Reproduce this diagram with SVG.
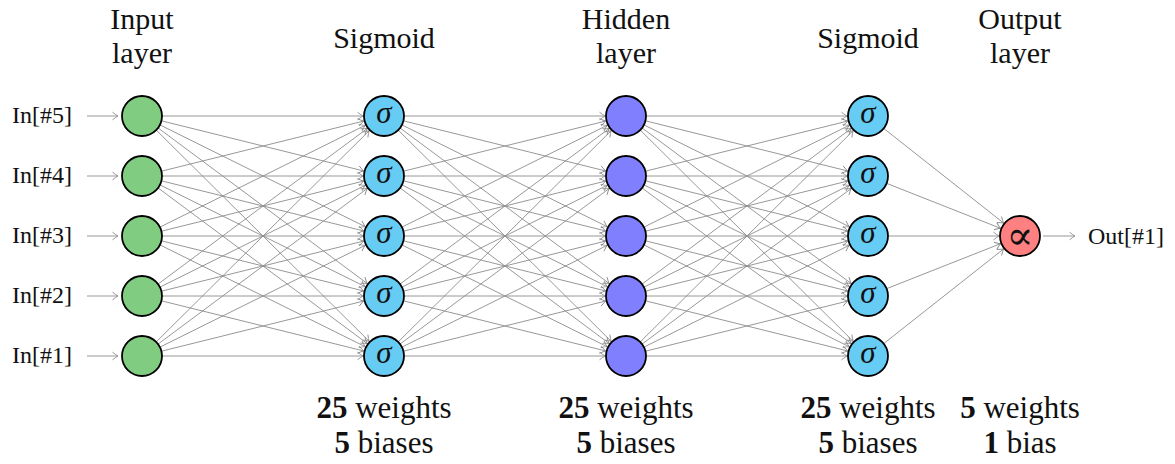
<svg xmlns="http://www.w3.org/2000/svg" width="1175" height="464" viewBox="0 0 1175 464">
  <style>
    .hdr, .io, .cnt, .sym { font-family: "Liberation Serif", "Times New Roman", serif; fill: #111; }
    .hdr { font-size: 30px; text-anchor: middle; }
    .io { font-size: 24px; }
    .cnt { font-size: 31px; text-anchor: middle; }
    .cnt .b { font-weight: bold; }
    .sym { font-size: 31px; font-style: italic; text-anchor: middle; }
    .prop { font-family: "DejaVu Serif", serif; font-size: 40px; text-anchor: middle; fill: #111; }
    .node { stroke: #000; stroke-width: 1.8; }
    .in { fill: #80cc80; }
    .sig { fill: #66ccf4; }
    .hid { fill: #8080ff; }
    .out { fill: #ff8080; }
    #edges line { stroke: #8c8c8c; stroke-width: 0.9; fill: none; }
    #edges line.w { marker-end: url(#tipNode); }
    #edges line.s { marker-end: url(#tipLine); }
  </style>
  <defs>
    <!-- open "to" arrowhead, tip pulled back to the circle boundary -->
    <marker id="tipNode" markerUnits="userSpaceOnUse" orient="auto" refX="21" refY="0" markerWidth="1" markerHeight="1" overflow="visible">
      <path d="M-5.5,-3.8 Q-2,-1.1 0,0 Q-2,1.1 -5.5,3.8" fill="none" stroke="#8c8c8c" stroke-width="0.9"/>
    </marker>
    <!-- open arrowhead at the very end of a line -->
    <marker id="tipLine" markerUnits="userSpaceOnUse" orient="auto" refX="0" refY="0" markerWidth="1" markerHeight="1" overflow="visible">
      <path d="M-5.5,-3.8 Q-2,-1.1 0,0 Q-2,1.1 -5.5,3.8" fill="none" stroke="#8c8c8c" stroke-width="0.9"/>
    </marker>
  </defs>

  <!-- column headers -->
  <g id="headers">
    <text class="hdr" x="142" y="29">Input</text>
    <text class="hdr" x="142" y="63">layer</text>
    <text class="hdr" x="384" y="48">Sigmoid</text>
    <text class="hdr" x="626" y="29">Hidden</text>
    <text class="hdr" x="626" y="63">layer</text>
    <text class="hdr" x="868" y="48">Sigmoid</text>
    <text class="hdr" x="1020" y="29">Output</text>
    <text class="hdr" x="1020" y="63">layer</text>
  </g>

  <!-- connectors -->
  <g id="edges">
    <!-- external inputs / output -->
    <line class="s" x1="87" y1="116" x2="118" y2="116"/>
    <line class="s" x1="87" y1="176" x2="118" y2="176"/>
    <line class="s" x1="87" y1="236" x2="118" y2="236"/>
    <line class="s" x1="87" y1="296" x2="118" y2="296"/>
    <line class="s" x1="87" y1="356" x2="118" y2="356"/>
    <line class="s" x1="1043" y1="236" x2="1075" y2="236"/>

    <!-- input layer -> sigmoid -->
    <line class="w" x1="142" y1="116" x2="384" y2="116"/>
    <line class="w" x1="142" y1="116" x2="384" y2="176"/>
    <line class="w" x1="142" y1="116" x2="384" y2="236"/>
    <line class="w" x1="142" y1="116" x2="384" y2="296"/>
    <line class="w" x1="142" y1="116" x2="384" y2="356"/>
    <line class="w" x1="142" y1="176" x2="384" y2="116"/>
    <line class="w" x1="142" y1="176" x2="384" y2="176"/>
    <line class="w" x1="142" y1="176" x2="384" y2="236"/>
    <line class="w" x1="142" y1="176" x2="384" y2="296"/>
    <line class="w" x1="142" y1="176" x2="384" y2="356"/>
    <line class="w" x1="142" y1="236" x2="384" y2="116"/>
    <line class="w" x1="142" y1="236" x2="384" y2="176"/>
    <line class="w" x1="142" y1="236" x2="384" y2="236"/>
    <line class="w" x1="142" y1="236" x2="384" y2="296"/>
    <line class="w" x1="142" y1="236" x2="384" y2="356"/>
    <line class="w" x1="142" y1="296" x2="384" y2="116"/>
    <line class="w" x1="142" y1="296" x2="384" y2="176"/>
    <line class="w" x1="142" y1="296" x2="384" y2="236"/>
    <line class="w" x1="142" y1="296" x2="384" y2="296"/>
    <line class="w" x1="142" y1="296" x2="384" y2="356"/>
    <line class="w" x1="142" y1="356" x2="384" y2="116"/>
    <line class="w" x1="142" y1="356" x2="384" y2="176"/>
    <line class="w" x1="142" y1="356" x2="384" y2="236"/>
    <line class="w" x1="142" y1="356" x2="384" y2="296"/>
    <line class="w" x1="142" y1="356" x2="384" y2="356"/>

    <!-- sigmoid -> hidden layer -->
    <line class="w" x1="384" y1="116" x2="626" y2="116"/>
    <line class="w" x1="384" y1="116" x2="626" y2="176"/>
    <line class="w" x1="384" y1="116" x2="626" y2="236"/>
    <line class="w" x1="384" y1="116" x2="626" y2="296"/>
    <line class="w" x1="384" y1="116" x2="626" y2="356"/>
    <line class="w" x1="384" y1="176" x2="626" y2="116"/>
    <line class="w" x1="384" y1="176" x2="626" y2="176"/>
    <line class="w" x1="384" y1="176" x2="626" y2="236"/>
    <line class="w" x1="384" y1="176" x2="626" y2="296"/>
    <line class="w" x1="384" y1="176" x2="626" y2="356"/>
    <line class="w" x1="384" y1="236" x2="626" y2="116"/>
    <line class="w" x1="384" y1="236" x2="626" y2="176"/>
    <line class="w" x1="384" y1="236" x2="626" y2="236"/>
    <line class="w" x1="384" y1="236" x2="626" y2="296"/>
    <line class="w" x1="384" y1="236" x2="626" y2="356"/>
    <line class="w" x1="384" y1="296" x2="626" y2="116"/>
    <line class="w" x1="384" y1="296" x2="626" y2="176"/>
    <line class="w" x1="384" y1="296" x2="626" y2="236"/>
    <line class="w" x1="384" y1="296" x2="626" y2="296"/>
    <line class="w" x1="384" y1="296" x2="626" y2="356"/>
    <line class="w" x1="384" y1="356" x2="626" y2="116"/>
    <line class="w" x1="384" y1="356" x2="626" y2="176"/>
    <line class="w" x1="384" y1="356" x2="626" y2="236"/>
    <line class="w" x1="384" y1="356" x2="626" y2="296"/>
    <line class="w" x1="384" y1="356" x2="626" y2="356"/>

    <!-- hidden layer -> sigmoid -->
    <line class="w" x1="626" y1="116" x2="868" y2="116"/>
    <line class="w" x1="626" y1="116" x2="868" y2="176"/>
    <line class="w" x1="626" y1="116" x2="868" y2="236"/>
    <line class="w" x1="626" y1="116" x2="868" y2="296"/>
    <line class="w" x1="626" y1="116" x2="868" y2="356"/>
    <line class="w" x1="626" y1="176" x2="868" y2="116"/>
    <line class="w" x1="626" y1="176" x2="868" y2="176"/>
    <line class="w" x1="626" y1="176" x2="868" y2="236"/>
    <line class="w" x1="626" y1="176" x2="868" y2="296"/>
    <line class="w" x1="626" y1="176" x2="868" y2="356"/>
    <line class="w" x1="626" y1="236" x2="868" y2="116"/>
    <line class="w" x1="626" y1="236" x2="868" y2="176"/>
    <line class="w" x1="626" y1="236" x2="868" y2="236"/>
    <line class="w" x1="626" y1="236" x2="868" y2="296"/>
    <line class="w" x1="626" y1="236" x2="868" y2="356"/>
    <line class="w" x1="626" y1="296" x2="868" y2="116"/>
    <line class="w" x1="626" y1="296" x2="868" y2="176"/>
    <line class="w" x1="626" y1="296" x2="868" y2="236"/>
    <line class="w" x1="626" y1="296" x2="868" y2="296"/>
    <line class="w" x1="626" y1="296" x2="868" y2="356"/>
    <line class="w" x1="626" y1="356" x2="868" y2="116"/>
    <line class="w" x1="626" y1="356" x2="868" y2="176"/>
    <line class="w" x1="626" y1="356" x2="868" y2="236"/>
    <line class="w" x1="626" y1="356" x2="868" y2="296"/>
    <line class="w" x1="626" y1="356" x2="868" y2="356"/>

    <!-- sigmoid -> output -->
    <line class="w" x1="868" y1="116" x2="1020" y2="236"/>
    <line class="w" x1="868" y1="176" x2="1020" y2="236"/>
    <line class="w" x1="868" y1="236" x2="1020" y2="236"/>
    <line class="w" x1="868" y1="296" x2="1020" y2="236"/>
    <line class="w" x1="868" y1="356" x2="1020" y2="236"/>
  </g>

  <!-- input labels -->
  <g id="inputs">
    <text class="io" x="72" y="123" text-anchor="end">In[#5]</text>
    <text class="io" x="72" y="183" text-anchor="end">In[#4]</text>
    <text class="io" x="72" y="243" text-anchor="end">In[#3]</text>
    <text class="io" x="72" y="303" text-anchor="end">In[#2]</text>
    <text class="io" x="72" y="363" text-anchor="end">In[#1]</text>
  </g>

  <!-- input layer -->
  <g id="in5"><circle class="node in" cx="142" cy="116" r="20"/></g>
  <g id="in4"><circle class="node in" cx="142" cy="176" r="20"/></g>
  <g id="in3"><circle class="node in" cx="142" cy="236" r="20"/></g>
  <g id="in2"><circle class="node in" cx="142" cy="296" r="20"/></g>
  <g id="in1"><circle class="node in" cx="142" cy="356" r="20"/></g>

  <!-- first sigmoid layer -->
  <g id="s1a"><circle class="node sig" cx="384" cy="116" r="20"/><text class="sym" x="384" y="123">σ</text></g>
  <g id="s1b"><circle class="node sig" cx="384" cy="176" r="20"/><text class="sym" x="384" y="183">σ</text></g>
  <g id="s1c"><circle class="node sig" cx="384" cy="236" r="20"/><text class="sym" x="384" y="243">σ</text></g>
  <g id="s1d"><circle class="node sig" cx="384" cy="296" r="20"/><text class="sym" x="384" y="303">σ</text></g>
  <g id="s1e"><circle class="node sig" cx="384" cy="356" r="20"/><text class="sym" x="384" y="363">σ</text></g>

  <!-- hidden layer -->
  <g id="h1"><circle class="node hid" cx="626" cy="116" r="20"/></g>
  <g id="h2"><circle class="node hid" cx="626" cy="176" r="20"/></g>
  <g id="h3"><circle class="node hid" cx="626" cy="236" r="20"/></g>
  <g id="h4"><circle class="node hid" cx="626" cy="296" r="20"/></g>
  <g id="h5"><circle class="node hid" cx="626" cy="356" r="20"/></g>

  <!-- second sigmoid layer -->
  <g id="s2a"><circle class="node sig" cx="868" cy="116" r="20"/><text class="sym" x="868" y="123">σ</text></g>
  <g id="s2b"><circle class="node sig" cx="868" cy="176" r="20"/><text class="sym" x="868" y="183">σ</text></g>
  <g id="s2c"><circle class="node sig" cx="868" cy="236" r="20"/><text class="sym" x="868" y="243">σ</text></g>
  <g id="s2d"><circle class="node sig" cx="868" cy="296" r="20"/><text class="sym" x="868" y="303">σ</text></g>
  <g id="s2e"><circle class="node sig" cx="868" cy="356" r="20"/><text class="sym" x="868" y="363">σ</text></g>

  <!-- output node -->
  <g id="out"><circle class="node out" cx="1020" cy="236" r="20"/><text class="prop" x="1020" y="249">∝</text></g>
  <g id="outLabel"><text class="io" x="1088" y="244">Out[#1]</text></g>

  <!-- parameter counts -->
  <g id="counts">
    <text class="cnt" x="384" y="418"><tspan class="b">25</tspan> weights</text>
    <text class="cnt" x="384" y="453"><tspan class="b">5</tspan> biases</text>
    <text class="cnt" x="626" y="418"><tspan class="b">25</tspan> weights</text>
    <text class="cnt" x="626" y="453"><tspan class="b">5</tspan> biases</text>
    <text class="cnt" x="868" y="418"><tspan class="b">25</tspan> weights</text>
    <text class="cnt" x="868" y="453"><tspan class="b">5</tspan> biases</text>
    <text class="cnt" x="1020" y="418"><tspan class="b">5</tspan> weights</text>
    <text class="cnt" x="1020" y="453"><tspan class="b">1</tspan> bias</text>
  </g>
</svg>
